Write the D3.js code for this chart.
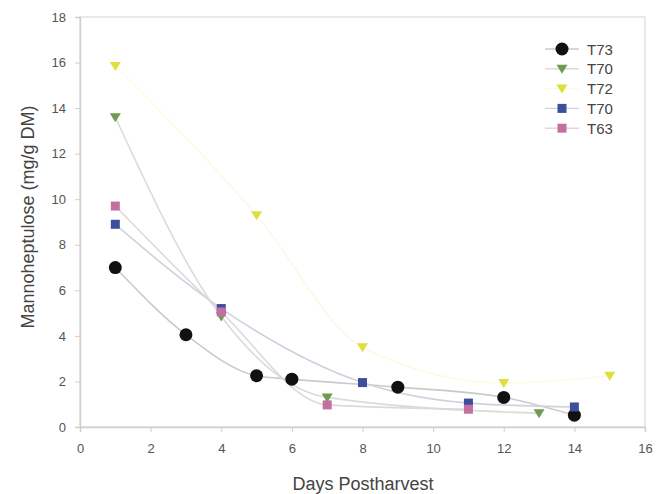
<!DOCTYPE html>
<html>
<head>
<meta charset="utf-8">
<script src="https://cdn.jsdelivr.net/npm/d3@7"></script>
<style>
  body { margin: 0; background: #fff; }
  text { font-family: "Liberation Sans", Arial, sans-serif; }
</style>
</head>
<body>
<svg id="chart"></svg>
<script>
// series data: [day, value]
const t73 = [[1, 7.0], [3, 4.05], [5, 2.25], [6, 2.1], [9, 1.75], [12, 1.3], [14, 0.52]];
const t70g = [[1, 13.6], [4, 4.85], [7, 1.3], [13, 0.6]];
const t72 = [[1, 15.85], [5, 9.3], [8, 3.5], [12, 1.93], [15, 2.25]];
const t70b = [[1, 8.9], [4, 5.2], [8, 1.95], [11, 1.05], [14, 0.88]];
const t63 = [[1, 9.7], [4, 5.05], [7, 0.97], [11, 0.78]];

const xTicks = [0, 2, 4, 6, 8, 10, 12, 14, 16];
const yTicks = [0, 2, 4, 6, 8, 10, 12, 14, 16, 18];

const series = [
  { name: 'T73', data: t73, shape: 'circle', fill: '#111', line: '#cacaca' },
  { name: 'T70', data: t70g, shape: 'triangle', fill: '#6e9a52', line: '#dadcd6' },
  { name: 'T72', data: t72, shape: 'triangle', fill: '#dede3c', line: '#fbfae6' },
  { name: 'T70', data: t70b, shape: 'square', fill: '#3b4f9c', line: '#cfd2de' },
  { name: 'T63', data: t63, shape: 'square', fill: '#c46fa2', line: '#e0d6dc' }
];

const W = 657, H = 494;
const margin = { top: 17, right: 12, bottom: 67, left: 80 };
const width = W - margin.left - margin.right;
const height = H - margin.top - margin.bottom;

const svg = d3.select('#chart').attr('width', W).attr('height', H);
const g = svg.append('g').attr('transform', `translate(${margin.left},${margin.top})`);

const x = d3.scaleLinear().domain([0, 16]).range([0, width]);
const y = d3.scaleLinear().domain([0, 18]).range([height, 0]);

// frame
g.append('rect')
  .attr('x', 0).attr('y', 0)
  .attr('width', width).attr('height', height)
  .attr('fill', 'none').attr('stroke', '#e2e2e2').attr('stroke-width', 1.5);

const xAxis = g.append('g')
  .attr('transform', `translate(0,${height})`)
  .call(d3.axisBottom(x).tickValues(xTicks).tickSize(5).tickPadding(12));
const yAxis = g.append('g')
  .call(d3.axisLeft(y).tickValues(yTicks).tickSize(5).tickPadding(9));

[xAxis, yAxis].forEach(a => {
  a.select('.domain').attr('stroke', '#cfcfcf').attr('stroke-width', 1.5);
  a.selectAll('.tick line').attr('stroke', '#cfcfcf');
  a.selectAll('.tick text').attr('fill', '#555').style('font-size', '13px');
});

const line = d3.line()
  .x(d => x(d[0]))
  .y(d => y(d[1]))
  .curve(d3.curveMonotoneX);

series.forEach(s => {
  g.append('path')
    .datum(s.data)
    .attr('d', line)
    .attr('fill', 'none')
    .attr('stroke', s.line)
    .attr('stroke-width', 1.6);
});

function drawMarker(sel, s, cx, cy) {
  if (s.shape === 'circle') {
    sel.append('circle').attr('cx', cx).attr('cy', cy).attr('r', 6.5).attr('fill', s.fill);
  } else if (s.shape === 'square') {
    sel.append('rect').attr('x', cx - 4.5).attr('y', cy - 4.5)
      .attr('width', 9).attr('height', 9).attr('fill', s.fill);
  } else {
    sel.append('path')
      .attr('d', `M${cx - 5.5},${cy - 4}L${cx + 5.5},${cy - 4}L${cx},${cy + 5}Z`)
      .attr('fill', s.fill);
  }
}

series.forEach(s => {
  const mg = g.append('g');
  s.data.forEach(d => drawMarker(mg, s, x(d[0]), y(d[1])));
});

// legend
const legend = svg.append('g').attr('transform', 'translate(562,49)');
series.forEach((s, i) => {
  const row = legend.append('g').attr('transform', `translate(0,${i * 19.8})`);
  row.append('line').attr('x1', -17).attr('x2', 17).attr('y1', 0).attr('y2', 0)
    .attr('stroke', s.line).attr('stroke-width', 1.4);
  drawMarker(row, s, 0, 0);
  row.append('text').attr('x', 25).attr('y', 5.5)
    .attr('fill', '#444').style('font-size', '15px').text(s.name);
});

// axis titles
svg.append('text')
  .attr('x', 363).attr('y', 490)
  .attr('text-anchor', 'middle').attr('fill', '#444')
  .style('font-size', '18px').text('Days Postharvest');

svg.append('text')
  .attr('transform', `translate(34,217) rotate(-90)`)
  .attr('text-anchor', 'middle').attr('fill', '#444')
  .style('font-size', '18px').text('Mannoheptulose (mg/g DM)');
</script>
</body>
</html>
